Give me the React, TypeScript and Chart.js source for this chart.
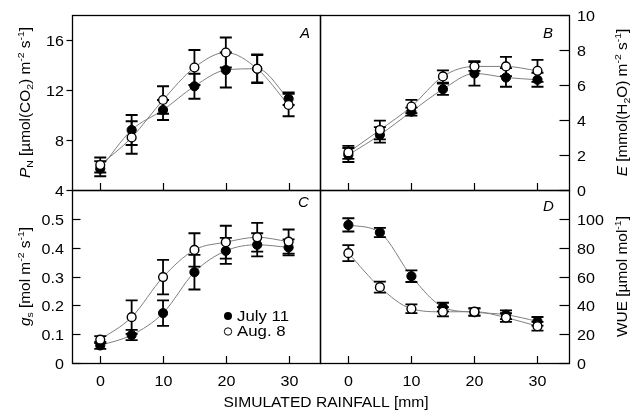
import React, { useEffect, useRef } from 'react';
import { Chart, registerables } from 'chart.js';
Chart.register(...registerables);

// ---------------- data ----------------
const rainfall = [0, 5, 10, 15, 20, 25, 30];
const xTicks = [0, 10, 20, 30];
const xTickLabels = ['0', '10', '20', '30'];

// Panel A: net photosynthetic rate
const pnJuly = [5.7, 8.8, 10.4, 12.3, 13.6, 13.7, 11.3];
const pnJulyErr = [0.6, 1.2, 0.8, 1.0, 1.4, 1.1, 0.5];
const pnAug = [6.0, 8.2, 11.2, 13.8, 15.0, 13.7, 10.8];
const pnAugErr = [0.6, 1.3, 1.1, 1.4, 1.2, 1.15, 0.9];
const pnTicks = [4, 8, 12, 16];
const pnTickLabels = ['4', '8', '12', '16'];

// Panel B: transpiration rate
const eJuly = [2.0, 3.15, 4.48, 5.76, 6.66, 6.43, 6.3];
const eJulyErr = [0.4, 0.44, 0.23, 0.32, 0.7, 0.53, 0.4];
const eAug = [2.15, 3.43, 4.77, 6.49, 7.06, 7.06, 6.81];
const eAugErr = [0.37, 0.54, 0.38, 0.35, 0.25, 0.55, 0.63];
const eTicks = [0, 2, 4, 6, 8, 10];
const eTickLabels = ['0', '2', '4', '6', '8', '10'];

// Panel C: stomatal conductance
const gsJuly = [0.061, 0.097, 0.173, 0.315, 0.389, 0.41, 0.401];
const gsJulyErr = [0.012, 0.018, 0.044, 0.06, 0.045, 0.04, 0.028];
const gsAug = [0.081, 0.159, 0.298, 0.392, 0.419, 0.436, 0.421];
const gsAugErr = [0.012, 0.058, 0.06, 0.058, 0.057, 0.05, 0.042];
const gsTicks = [0, 0.1, 0.2, 0.3, 0.4, 0.5];
const gsTickLabels = ['0', '0.1', '0.2', '0.3', '0.4', '0.5'];

// Panel D: water use efficiency
const wueJuly = [95.8, 90.5, 60.2, 38.8, 35.2, 33.5, 28.9];
const wueJulyErr = [4.6, 3.2, 4.0, 3.0, 2.5, 3.0, 3.0];
const wueAug = [76.2, 52.6, 37.6, 35.5, 35.6, 31.5, 25.5];
const wueAugErr = [5.6, 3.8, 3.0, 3.2, 2.5, 3.0, 3.0];
const wueTicks = [0, 20, 40, 60, 80, 100];
const wueTickLabels = ['0', '20', '40', '60', '80', '100'];

const seriesNames = ['July 11', 'Aug. 8'];
const xAxisTitle = 'SIMULATED RAINFALL [mm]';

// ---------------- styling / layout ----------------
const W = 631;
const H = 410;
const FONT = '"Liberation Sans", Arial, Helvetica, sans-serif';
const LINE_COLOR = '#7f7f7f';

type Run = { t: string; it?: boolean; sub?: boolean; sup?: boolean };

function drawRuns(
  ctx: CanvasRenderingContext2D,
  runs: Run[],
  x: number,
  y: number,
  size: number,
  align: 'left' | 'right' | 'center',
  rotate: boolean,
  stretch: number
) {
  const small = size * 0.68;
  const fontFor = (r: Run) => `${r.it ? 'italic ' : ''}${r.sub || r.sup ? small : size}px ${FONT}`;
  let total = 0;
  const widths = runs.map((r) => {
    ctx.font = fontFor(r);
    const w = ctx.measureText(r.t).width;
    total += w;
    return w;
  });
  ctx.save();
  ctx.translate(x, y);
  if (rotate) ctx.rotate(-Math.PI / 2);
  ctx.scale(stretch, 1);
  let u = align === 'left' ? 0 : align === 'right' ? -total : -total / 2;
  const base = size * 0.36;
  ctx.textBaseline = 'alphabetic';
  ctx.textAlign = 'left';
  ctx.fillStyle = '#000';
  runs.forEach((r, i) => {
    ctx.font = fontFor(r);
    const dy = r.sub ? base + size * 0.24 : r.sup ? base - size * 0.42 : base;
    ctx.fillText(r.t, u, dy);
    u += widths[i];
  });
  ctx.restore();
}

type Panel = {
  area: [number, number, number, number];
  yMin: number;
  yMax: number;
  yTicks: number[];
  yLabels: string[];
  side: 'left' | 'right';
  yTickFrom: number;
  yTickTo: number;
  showX: boolean;
  july: number[];
  julyErr: number[];
  aug: number[];
  augErr: number[];
  letter: string;
  letterPos: [number, number];
  title: Run[];
  titleX: number;
  legend?: boolean;
  xTitle?: boolean;
};

const panels: Panel[] = [
  {
    area: [72, 15, 320, 190], yMin: 4, yMax: 18, yTicks: pnTicks, yLabels: pnTickLabels,
    side: 'left', yTickFrom: 66, yTickTo: 72, showX: false,
    july: pnJuly, julyErr: pnJulyErr, aug: pnAug, augErr: pnAugErr,
    letter: 'A', letterPos: [300, 37.5],
    title: [
      { t: 'P', it: true }, { t: 'N', sub: true }, { t: ' [µmol(CO' }, { t: '2', sub: true },
      { t: ') m' }, { t: '-2', sup: true }, { t: ' s' }, { t: '-1', sup: true }, { t: ']' },
    ],
    titleX: 25,
  },
  {
    area: [320, 15, 569, 190], yMin: 0, yMax: 10, yTicks: eTicks, yLabels: eTickLabels,
    side: 'right', yTickFrom: 559, yTickTo: 569, showX: false,
    july: eJuly, julyErr: eJulyErr, aug: eAug, augErr: eAugErr,
    letter: 'B', letterPos: [543, 37.5],
    title: [
      { t: 'E', it: true }, { t: ' [mmol(H' }, { t: '2', sub: true }, { t: 'O) m' },
      { t: '-2', sup: true }, { t: ' s' }, { t: '-1', sup: true }, { t: ']' },
    ],
    titleX: 622,
  },
  {
    area: [72, 190, 320, 363], yMin: 0, yMax: 0.6, yTicks: gsTicks, yLabels: gsTickLabels,
    side: 'left', yTickFrom: 72, yTickTo: 80, showX: true,
    july: gsJuly, julyErr: gsJulyErr, aug: gsAug, augErr: gsAugErr,
    letter: 'C', letterPos: [298, 206.5],
    title: [
      { t: 'g', it: true }, { t: 's', sub: true }, { t: ' [mol m' }, { t: '-2', sup: true },
      { t: ' s' }, { t: '-1', sup: true }, { t: ']' },
    ],
    titleX: 25,
    legend: true,
    xTitle: true,
  },
  {
    area: [320, 190, 569, 363], yMin: 0, yMax: 120, yTicks: wueTicks, yLabels: wueTickLabels,
    side: 'right', yTickFrom: 559, yTickTo: 569, showX: true,
    july: wueJuly, julyErr: wueJulyErr, aug: wueAug, augErr: wueAugErr,
    letter: 'D', letterPos: [543, 210.5],
    title: [{ t: 'WUE [µmol mol' }, { t: '-1', sup: true }, { t: ']' }],
    titleX: 622,
  },
];

const toPts = (vals: number[]) => vals.map((v, i) => ({ x: rainfall[i], y: v }));

function buildConfig(p: Panel): any {
  const [l, t, r, b] = p.area;
  const deco = {
    id: 'deco',
    beforeDatasetDraw(chart: any, args: any) {
      if (args.index !== 2) return;
      const ctx = chart.ctx as CanvasRenderingContext2D;
      const xs = chart.scales.x;
      const ys = chart.scales.y;
      ctx.save();
      ctx.strokeStyle = '#000';
      ctx.lineWidth = 1.8;
      const cap = 6;
      const drawErr = (vals: number[], errs: number[]) =>
        vals.forEach((v, i) => {
          const px = xs.getPixelForValue(rainfall[i]);
          const top = ys.getPixelForValue(v + errs[i]);
          const bot = ys.getPixelForValue(v - errs[i]);
          ctx.beginPath();
          ctx.moveTo(px, top);
          ctx.lineTo(px, bot);
          ctx.moveTo(px - cap, top);
          ctx.lineTo(px + cap, top);
          ctx.moveTo(px - cap, bot);
          ctx.lineTo(px + cap, bot);
          ctx.stroke();
        });
      drawErr(p.aug, p.augErr);
      drawErr(p.july, p.julyErr);
      ctx.restore();
    },
    afterDraw(chart: any) {
      const ctx = chart.ctx as CanvasRenderingContext2D;
      const xs = chart.scales.x;
      const ys = chart.scales.y;
      const ca = chart.chartArea;
      ctx.save();
      ctx.strokeStyle = '#000';
      ctx.lineWidth = 1.3;
      ctx.strokeRect(ca.left + 0.5, ca.top + 0.5, ca.right - ca.left, ca.bottom - ca.top);
      // x ticks (inside)
      ctx.lineWidth = 1.2;
      xTicks.forEach((v, i) => {
        const px = Math.round(xs.getPixelForValue(v)) + 0.5;
        ctx.beginPath();
        ctx.moveTo(px, ca.bottom + 0.5);
        ctx.lineTo(px, ca.bottom - 7);
        ctx.stroke();
        if (p.showX) drawRuns(ctx, [{ t: xTickLabels[i] }], px, 380.5, 14, 'center', false, 1.15);
      });
      // y ticks
      p.yTicks.forEach((v, i) => {
        const py = Math.round(ys.getPixelForValue(v)) + 0.5;
        ctx.beginPath();
        ctx.moveTo(p.yTickFrom + 0.5, py);
        ctx.lineTo(p.yTickTo + 0.5, py);
        ctx.stroke();
        if (p.side === 'left') drawRuns(ctx, [{ t: p.yLabels[i] }], 64, py, 14, 'right', false, 1.15);
        else drawRuns(ctx, [{ t: p.yLabels[i] }], 577, py, 14, 'left', false, 1.15);
      });
      // axis title
      drawRuns(ctx, p.title, p.titleX, (ca.top + ca.bottom) / 2, 14, 'center', true, 1.1);
      // panel letter
      ctx.font = `italic 15px ${FONT}`;
      ctx.fillStyle = '#000';
      ctx.textBaseline = 'alphabetic';
      ctx.textAlign = 'left';
      ctx.fillText(p.letter, p.letterPos[0], p.letterPos[1]);
      if (p.legend) {
        ctx.lineWidth = 1;
        ctx.beginPath();
        ctx.arc(228, 316, 4, 0, Math.PI * 2);
        ctx.fillStyle = '#000';
        ctx.fill();
        ctx.beginPath();
        ctx.arc(228, 331.5, 3.7, 0, Math.PI * 2);
        ctx.fillStyle = '#fff';
        ctx.fill();
        ctx.stroke();
        drawRuns(ctx, [{ t: seriesNames[0] }], 237, 315.5, 14, 'left', false, 1.2);
        drawRuns(ctx, [{ t: seriesNames[1] }], 237, 331, 14, 'left', false, 1.2);
      }
      if (p.xTitle) {
        drawRuns(ctx, [{ t: xAxisTitle }], 326, 401.5, 15, 'center', false, 1.04);
      }
      ctx.restore();
    },
  };
  const lineDs = (vals: number[]) => ({
    data: toPts(vals),
    showLine: true,
    borderColor: LINE_COLOR,
    borderWidth: 1,
    pointRadius: 0,
    cubicInterpolationMode: 'monotone',
    fill: false,
    order: 10,
  });
  return {
    type: 'scatter',
    data: {
      datasets: [
        lineDs(p.july),
        lineDs(p.aug),
        {
          data: toPts(p.july), pointRadius: 4.6, pointBackgroundColor: '#000',
          pointBorderColor: '#000', pointBorderWidth: 1, showLine: false, order: 5,
        },
        {
          data: toPts(p.aug), pointRadius: 4.4, pointBackgroundColor: '#fff',
          pointBorderColor: '#000', pointBorderWidth: 1.4, showLine: false, order: 1,
        },
      ],
    },
    options: {
      responsive: false,
      animation: false,
      devicePixelRatio: 1,
      events: [],
      layout: { padding: { left: l, top: t, right: W - r, bottom: H - b } },
      scales: {
        x: { type: 'linear', min: -4.5, max: 35, display: false },
        y: { type: 'linear', min: p.yMin, max: p.yMax, display: false },
      },
      plugins: { legend: { display: false }, tooltip: { enabled: false } },
    },
    plugins: [deco],
  };
}

function PanelChart({ panel }: { panel: Panel }) {
  const ref = useRef<HTMLCanvasElement | null>(null);
  useEffect(() => {
    if (!ref.current) return;
    const chart = new Chart(ref.current, buildConfig(panel));
    return () => chart.destroy();
  }, [panel]);
  return (
    <canvas
      ref={ref}
      width={W}
      height={H}
      style={{ position: 'absolute', left: 0, top: 0, width: W, height: H }}
    />
  );
}

export default function App() {
  return (
    <div style={{ position: 'absolute', left: 0, top: 0, width: W, height: H, background: '#fff' }}>
      {panels.map((p) => (
        <PanelChart key={p.letter} panel={p} />
      ))}
    </div>
  );
}
